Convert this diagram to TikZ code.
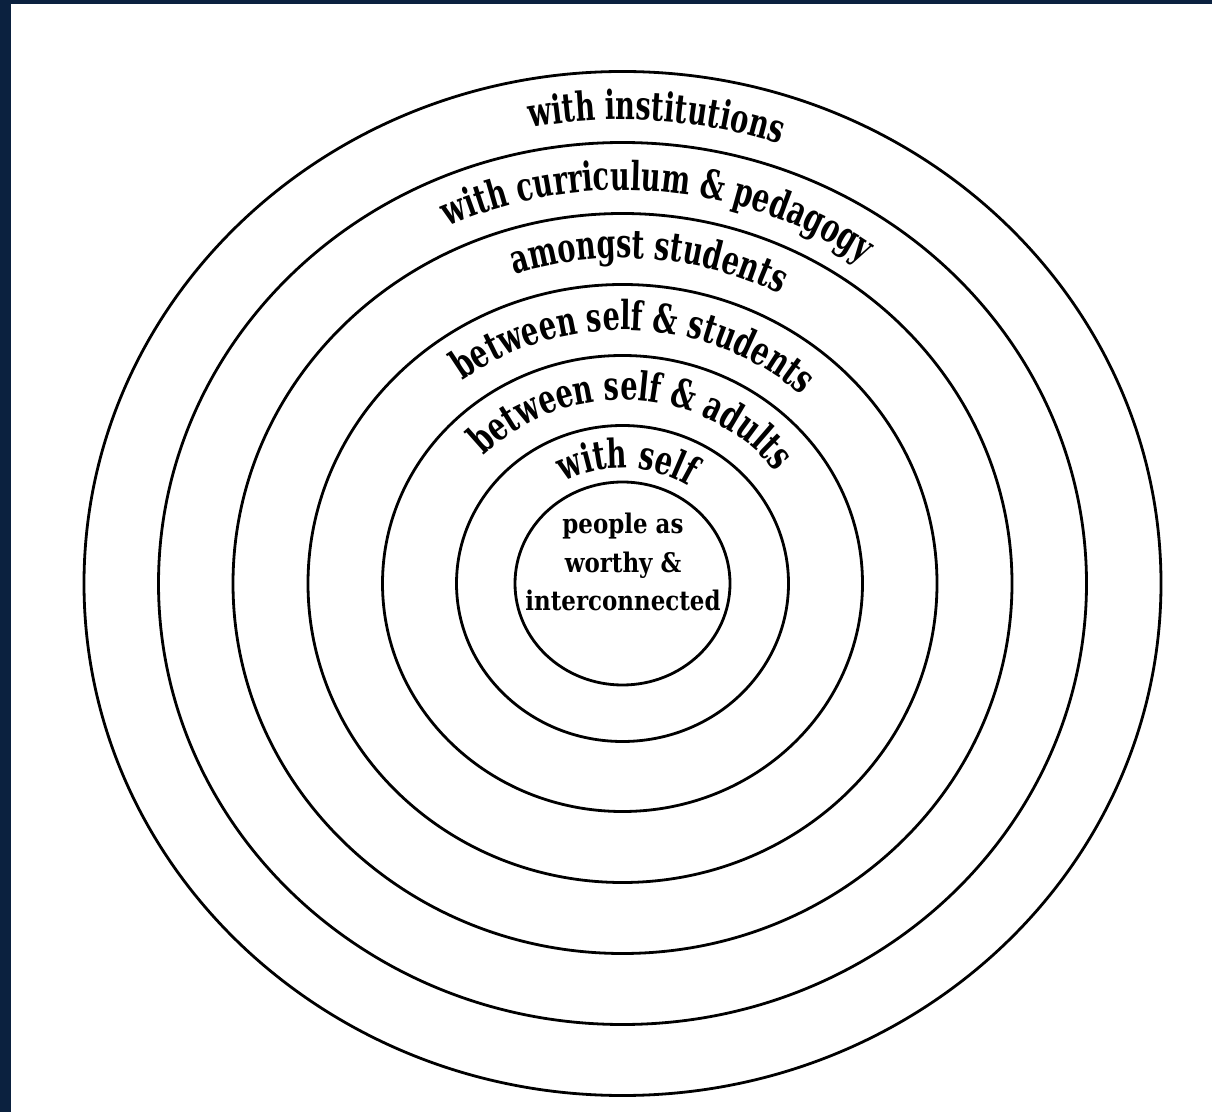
\documentclass[tikz,border=0pt]{standalone}
\usepackage{fontspec}
\usetikzlibrary{decorations.text}
\newfontfamily\arcfont[FakeStretch=0.68]{DejaVu Serif}
\newfontfamily\corefont[FakeStretch=0.85]{DejaVu Serif}
\definecolor{navy}{RGB}{11,33,63}
\tikzset{
  ring/.style={line width=2.8pt, draw=black},
  arclabel/.style={decorate, decoration={text along path, text align=center,
     text={|\arcfont\bfseries\fontsize{40}{40}\selectfont|#1}}}
}
\begin{document}
\begin{tikzpicture}[x=1pt,y=1pt]
\useasboundingbox (0,0) rectangle (1212,1112);
\fill[navy] (0,0) rectangle (1212,1112);
\fill[white] (11,0) rectangle (1212,1108);
\coordinate (C) at (622.5,528.5);
% rings
\foreach \rx/\ry in {538.5/512,464/441,389.5/370,314.5/299,240/228,166/158,107.5/101.5}
  \draw[ring] (C) ellipse [x radius=\rx pt, y radius=\ry pt];
% labels
\path[arclabel={with institutions}] ([shift={(126:490pt and 464pt)}]C) arc[start angle=126, end angle=46, x radius=490pt, y radius=464pt];
\path[arclabel={with curriculum {\&} pedagogy}] ([shift={(139.6:415pt and 393.5pt)}]C) arc[start angle=139.6, end angle=29.6, x radius=415pt, y radius=393.5pt];
\path[arclabel={amongst students}] ([shift={(135.4:343pt and 325.5pt)}]C) arc[start angle=135.4, end angle=35.4, x radius=343pt, y radius=325.5pt];
\path[arclabel={between self {\&} students}] ([shift={(152.3:267pt and 253.5pt)}]C) arc[start angle=152.3, end angle=22.3, x radius=267pt, y radius=253.5pt];
\path[arclabel={between self {\&} adults}] ([shift={(161.7:193.5pt and 183.5pt)}]C) arc[start angle=161.7, end angle=11.7, x radius=193.5pt, y radius=183.5pt];
\path[arclabel={with self}] ([shift={(163:122pt and 115.5pt)}]C) arc[start angle=163, end angle=13, x radius=122pt, y radius=115.5pt];
% core
\node[align=center, inner sep=0pt, font=\corefont\bfseries\fontsize{27}{38.5}\selectfont] (core) at (623,550) {people as\\worthy \&\\interconnected};
\end{tikzpicture}
\end{document}
